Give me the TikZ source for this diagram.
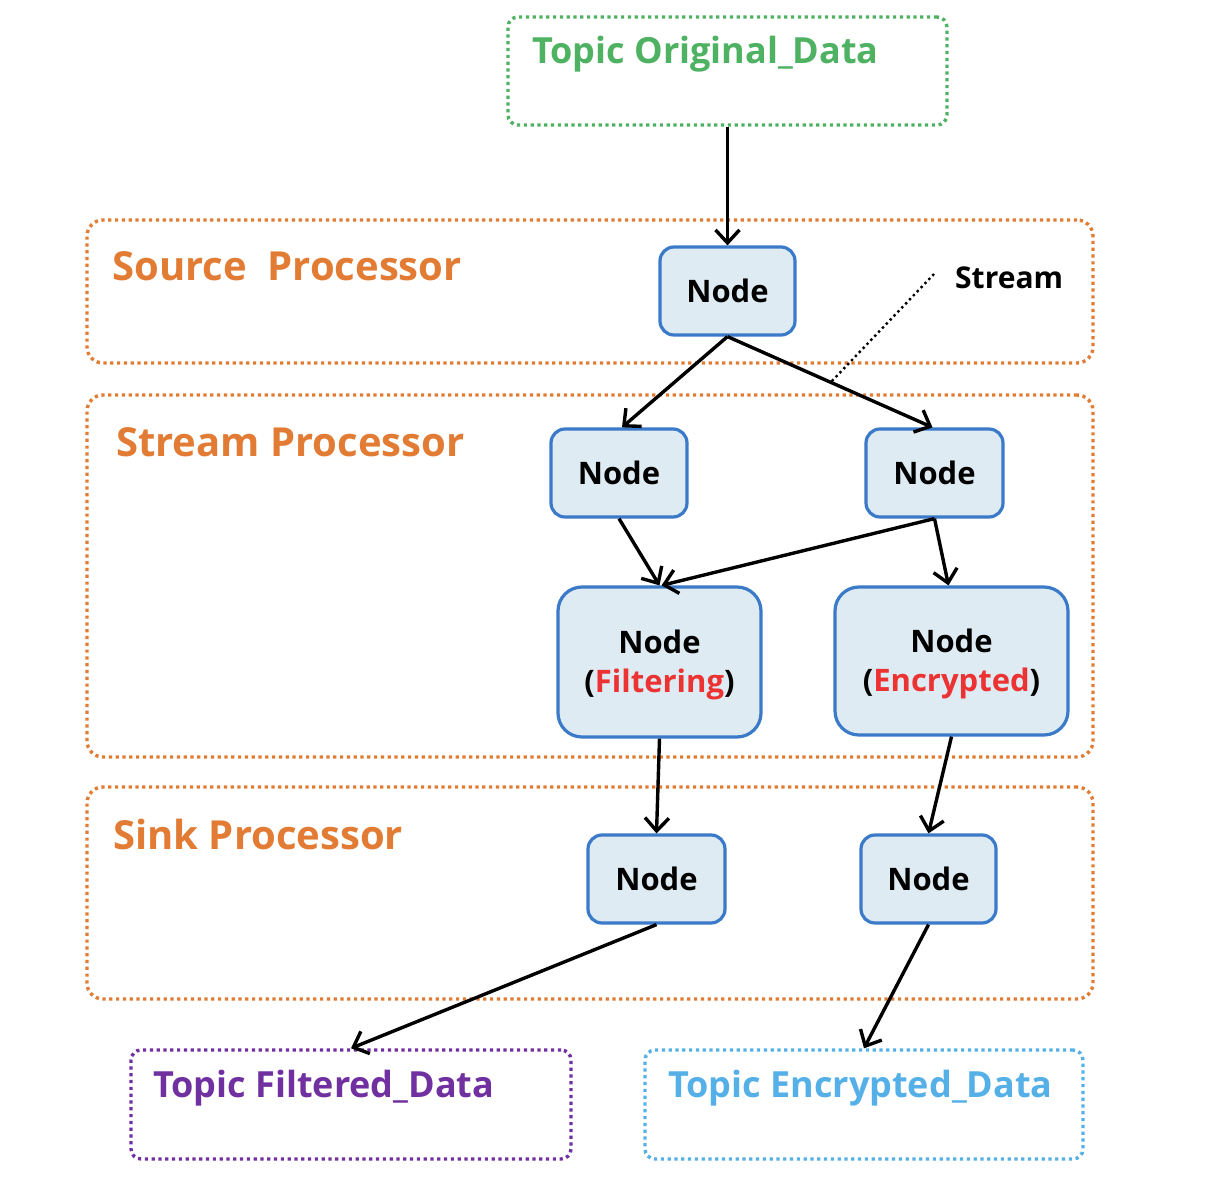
\documentclass[tikz,border=0pt]{standalone}
\usepackage{fontspec}
\setmainfont{Open Sans}
\usetikzlibrary{arrows.meta,calc}

\definecolor{grpOrange}{RGB}{226,124,52}
\definecolor{topicGreen}{RGB}{78,178,98}
\definecolor{topicPurple}{RGB}{112,48,160}
\definecolor{topicBlue}{RGB}{86,176,232}
\definecolor{boxBlue}{RGB}{58,122,200}
\definecolor{boxFill}{RGB}{222,235,242}
\definecolor{hiRed}{RGB}{236,50,50}

\tikzset{
  dotline/.style={line width=3.4pt, dash pattern=on 3.2pt off 3.6pt},
  group/.style={draw=grpOrange, dotline, rounded corners=16pt, inner sep=0pt},
  topicbox/.style={dotline, rounded corners=10pt, inner sep=0pt, minimum width=#1, minimum height=108pt},
  proc/.style={draw=boxBlue, fill=boxFill, line width=3.2pt, rounded corners=14pt,
    inner sep=0pt, align=center, font=\fontsize{31}{39}\selectfont\bfseries},
  grplabel/.style={anchor=west, inner sep=0pt, text=grpOrange, font=\fontsize{40}{44}\selectfont\bfseries},
  topiclabel/.style={anchor=west, inner sep=0pt, font=\fontsize{36}{40}\selectfont\bfseries},
  flow/.style={line width=3.4pt, -{Straight Barb[length=13pt,width=24pt]}}
}

\begin{document}
\begin{tikzpicture}[x=1pt,y=-1pt]
\useasboundingbox[fill=white] (0,0) rectangle (1208,1196);

% processor groups
\node[group, minimum width=1006pt, minimum height=143pt] (srcgrp) at (590,291.5) {};
\node[group, minimum width=1006pt, minimum height=362pt] (strgrp) at (590,576) {};
\node[group, minimum width=1006pt, minimum height=212pt] (snkgrp) at (590,893) {};
\node[grplabel] (srclbl) at (112,266) {Source\ \ Processor};
\node[grplabel] (strlbl) at (116,442) {Stream\ Processor};
\node[grplabel] (snklbl) at (113,834) {Sink Processor};

% topics
\node[topicbox=439pt, draw=topicGreen] (torig) at (727.5,71) {};
\node[topiclabel, text=topicGreen] (torigl) at (532,54) {Topic Original\_Data};
\node[topicbox=440pt, draw=topicPurple, minimum height=109pt] (tfilt) at (351,1104.5) {};
\node[topiclabel, text=topicPurple] (tfiltl) at (153,1088) {Topic Filtered\_Data};
\node[topicbox=438pt, draw=topicBlue, minimum height=109pt] (tenc) at (864,1104.5) {};
\node[topiclabel, text=topicBlue] (tencl) at (668,1088) {Topic Encrypted\_Data};

% processing nodes
\node[proc, minimum width=135pt, minimum height=88pt] (src) at (727.5,291) {Node};
\node[proc, minimum width=136pt, minimum height=88pt] (sl) at (619,473) {Node};
\node[proc, minimum width=137pt, minimum height=88pt] (sr) at (934.5,473) {Node};
\node[proc, minimum width=203pt, minimum height=150pt, rounded corners=24pt] (filt) at (659.5,662)
  {\rule{0pt}{30pt}Node\\(\textcolor{hiRed}{Filtering})};
\node[proc, minimum width=233pt, minimum height=148pt, rounded corners=24pt] (enc) at (951.5,661)
  {\rule{0pt}{30pt}Node\\(\textcolor{hiRed}{Encrypted})};
\node[proc, minimum width=137pt, minimum height=88pt] (kl) at (656.5,879) {Node};
\node[proc, minimum width=135pt, minimum height=88pt] (kr) at (928.5,879) {Node};

% data flow
\draw[flow] (torig.south -| src.north) -- (src.north);
\draw[flow] (src.south) -- ([xshift=3pt]sl.north);
\draw[flow] (src.south) -- ([xshift=-2pt]sr.north);
\draw[flow] (sl.south) -- (filt.north);
\draw[flow] (sr.south) -- ([xshift=2pt]filt.north);
\draw[flow] (sr.south) -- ([xshift=-3pt]enc.north);
\draw[flow] (filt.south) -- (kl.north);
\draw[flow] (enc.south) -- (kr.north);
\draw[flow] (kl.south) -- (tfilt.north);
\draw[flow] (kr.south) -- (tenc.north);

% stream callout
\node[anchor=west, inner sep=0pt, font=\fontsize{30}{32}\selectfont\bfseries] (strm) at (955,278) {Stream};
\coordinate (strmtip) at (934,274);
\coordinate (strmon) at ($(src.south)!0.5!(sr.north)$);
\draw[line width=2.4pt, dash pattern=on 2.4pt off 3.2pt] (strmtip) -- (strmon);
\end{tikzpicture}
\end{document}
